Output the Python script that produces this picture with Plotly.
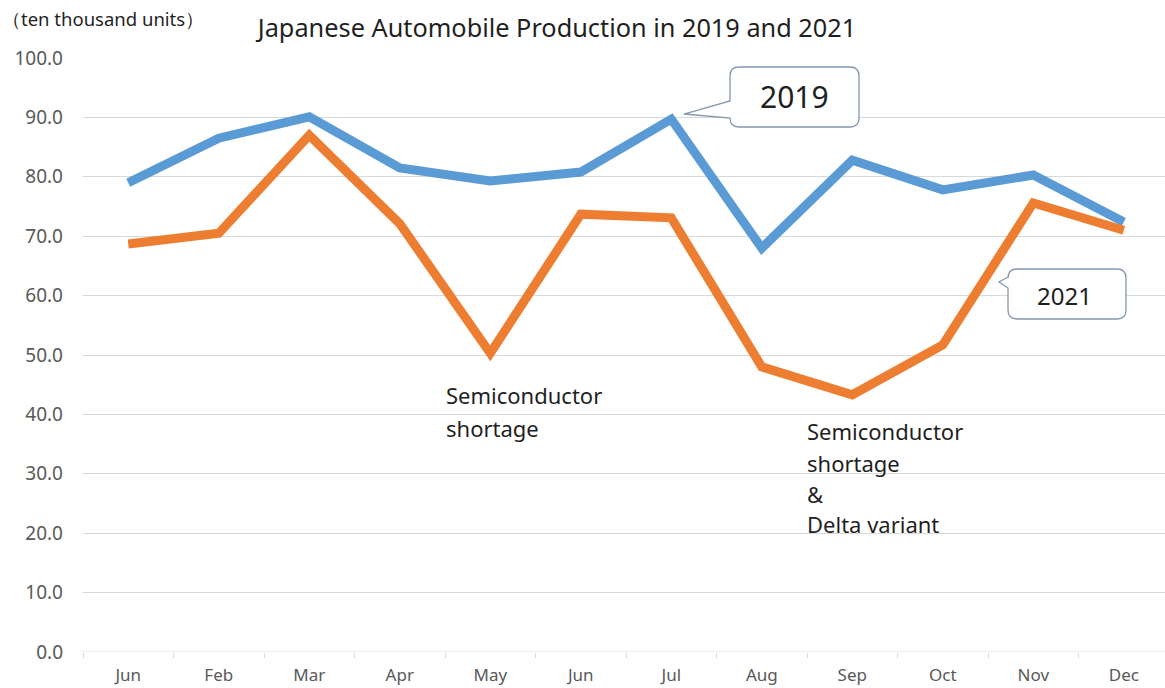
import plotly.graph_objects as go

# Monthly production, ten thousand units
months = ["Jun", "Feb", "Mar", "Apr", "May", "Jun", "Jul", "Aug", "Sep", "Oct", "Nov", "Dec"]
prod_2019 = [79.0, 86.5, 90.1, 81.5, 79.3, 80.8, 89.7, 68.0, 82.8, 77.8, 80.3, 72.4]
prod_2021 = [68.7, 70.5, 87.0, 72.1, 50.3, 73.7, 73.1, 48.0, 43.3, 51.7, 75.6, 71.0]
y_ticks = [0, 10, 20, 30, 40, 50, 60, 70, 80, 90, 100]

note_may = ["Semiconductor", "shortage"]
note_sep = ["Semiconductor", "shortage", "&", "Delta variant"]

W, H = 1165, 688
L, R, T, B = 83, 0, 58, 36
FONT = "Noto Sans, Open Sans, sans-serif"
BLUE = "#5B9BD5"
ORANGE = "#ED7D31"
GRID = "#D9D9D9"
EDGE = "#8497B0"
INK = "#1f1f1f"


def px(x):
    return (x - L) / (W - L - R)


def py(y):
    return (H - B - y) / (H - T - B)


def callout_path(x0, y0, x1, y1, r, tip, a0, a1):
    """Rounded box with a wedge on its left side, in paper coordinates."""
    pts = [
        ("M", x0 + r, y0), ("L", x1 - r, y0), ("Q", x1, y0, x1, y0 + r),
        ("L", x1, y1 - r), ("Q", x1, y1, x1 - r, y1), ("L", x0 + r, y1),
        ("Q", x0, y1, x0, y1 - r), ("L", x0, a1), ("L", tip[0], tip[1]),
        ("L", x0, a0), ("L", x0, y0 + r), ("Q", x0, y0, x0 + r, y0),
    ]
    out = []
    for p in pts:
        cmd, vals = p[0], p[1:]
        coords = []
        for i in range(0, len(vals), 2):
            coords.append(f"{px(vals[i]):.5f},{py(vals[i + 1]):.5f}")
        out.append(cmd + " " + " ".join(coords))
    return " ".join(out) + " Z"


x_idx = list(range(len(months)))

fig = go.Figure()
fig.add_trace(go.Scatter(x=x_idx, y=prod_2019, mode="lines", name="2019",
                         line=dict(color=BLUE, width=9)))
fig.add_trace(go.Scatter(x=x_idx, y=prod_2021, mode="lines", name="2021",
                         line=dict(color=ORANGE, width=9)))

fig.update_layout(
    width=W, height=H,
    margin=dict(l=L, r=R, t=T, b=B, autoexpand=False),
    paper_bgcolor="white", plot_bgcolor="white",
    showlegend=False,
    font=dict(family=FONT, color="#595959"),
    title=dict(text="Japanese Automobile Production in 2019 and 2021",
               x=557 / W, xanchor="center", y=1 - 28 / H, yanchor="middle",
               font=dict(size=25.3, color=INK, family=FONT)),
)

fig.update_xaxes(
    range=[-0.5, 11.455], tickmode="array", tickvals=x_idx, ticktext=months,
    showgrid=False, zeroline=False, showline=False, ticks="",
    ticklabelstandoff=11, tickfont=dict(size=17, color="#595959"),
    minor=dict(tick0=-0.5, dtick=1, ticks="outside", ticklen=5,
               tickcolor=GRID, showgrid=False),
    fixedrange=True,
)
fig.update_yaxes(
    range=[0, 100], tickmode="array", tickvals=y_ticks,
    ticktext=[f"{v:.1f}" for v in y_ticks],
    showgrid=True, gridcolor=GRID, gridwidth=1, zeroline=False,
    showline=False, ticks="", ticklabelstandoff=19,
    tickfont=dict(size=19, color="#595959"),
    fixedrange=True,
)

# x-axis baseline
fig.add_shape(type="line", xref="paper", yref="y", x0=0, x1=1, y0=0, y1=0,
              line=dict(color=GRID, width=1))

# Series callouts
fig.add_shape(type="path", xref="paper", yref="paper",
              path=callout_path(730, 67, 859, 127, 9, (684, 114), 101, 118),
              line=dict(color=EDGE, width=1.3), fillcolor="white")
fig.add_shape(type="path", xref="paper", yref="paper",
              path=callout_path(1008, 269, 1126, 319, 9, (999, 282), 277, 288),
              line=dict(color=EDGE, width=1.3), fillcolor="white")


def text_at(text, x, y, size, xanchor="left"):
    fig.add_annotation(text=text, x=px(x), y=py(y), xref="paper", yref="paper",
                       xanchor=xanchor, yanchor="middle", showarrow=False,
                       font=dict(size=size, color=INK, family=FONT))


text_at("2019", 794, 97, 30, "center")
text_at("2021", 1064, 295, 24, "center")

for line, y in zip(note_may, [395, 428]):
    text_at(line, 444, y, 22)
for line, y in zip(note_sep, [431, 463, 494, 524]):
    text_at(line, 805, y, 22)

text_at("（ten thousand units）", 0, 18, 18.5)

fig.write_html("out.html")
